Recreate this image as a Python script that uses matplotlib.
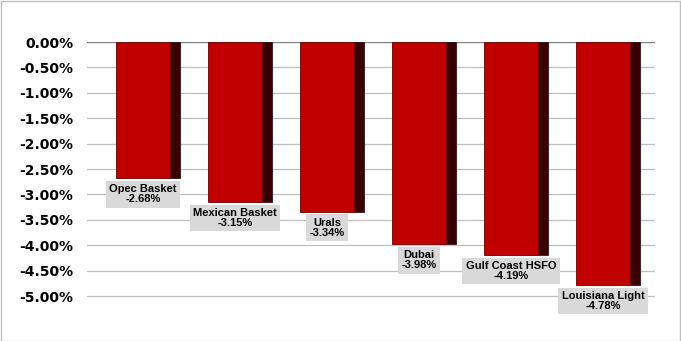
import numpy as np
import matplotlib
matplotlib.use('Agg')
import matplotlib.pyplot as plt

# Data
names = ['Opec Basket', 'Mexican Basket', 'Urals', 'Dubai', 'Gulf Coast HSFO', 'Louisiana Light']
changes = [-2.68, -3.15, -3.34, -3.98, -4.19, -4.78]
yticks = [0.0, -0.5, -1.0, -1.5, -2.0, -2.5, -3.0, -3.5, -4.0, -4.5, -5.0]

W, H = 681, 341
fig = plt.figure(figsize=(W / 100, H / 100), dpi=100)

# plot area in pixels
left, right, top, bottom = 87, 655, 42, 326.5
ax = fig.add_axes([left / W, 1 - bottom / H, (right - left) / W, (bottom - top) / H])

x = np.arange(len(names))
front_w = 0.587
side_w = 0.109
front_c = x - 0.348 + front_w / 2
side_c = x - 0.348 + front_w + side_w / 2

for t in yticks:
	ax.axhline(t, color='#808080' if t == 0 else '#BFBFBF', lw=1.0 if t == 0 else 0.9, zorder=0)

ax.bar(side_c, changes, width=side_w, color='#3A0000', edgecolor='#2A0000', lw=0.5, zorder=2)
ax.bar(front_c, changes, width=front_w, color='#C00000', edgecolor='#6A0000', lw=0.6, zorder=3)

for xc, v, n in zip(front_c, changes, names):
	ax.text(xc, v - 0.12, '{}\n{:.2f}%'.format(n, v), ha='center', va='top',
			fontsize=8, fontweight='bold', family='Liberation Sans', linespacing=1.0,
			bbox=dict(boxstyle='square,pad=0.3', fc='#D9D9D9', ec='none'), zorder=4, clip_on=False)

ax.set_xlim(-0.663, 5.511)
ax.set_ylim(-5.6, 0)
ax.set_yticks(yticks)
ax.set_yticklabels(['{:.2f}%'.format(t) if t != 0 else '0.00%' for t in yticks],
				   fontsize=10, fontweight='bold', family='DejaVu Sans')
ax.tick_params(axis='y', length=0, pad=10)
ax.set_xticks([])
for s in ax.spines.values():
	s.set_visible(False)

# outer border
fig.patches.append(plt.Rectangle((0.5 / W, 0.5 / H), 1 - 1.5 / W, 1 - 1.5 / H, transform=fig.transFigure,
								 fill=False, ec='#BFBFBF', lw=1))

fig.savefig('out.png', dpi=100)
